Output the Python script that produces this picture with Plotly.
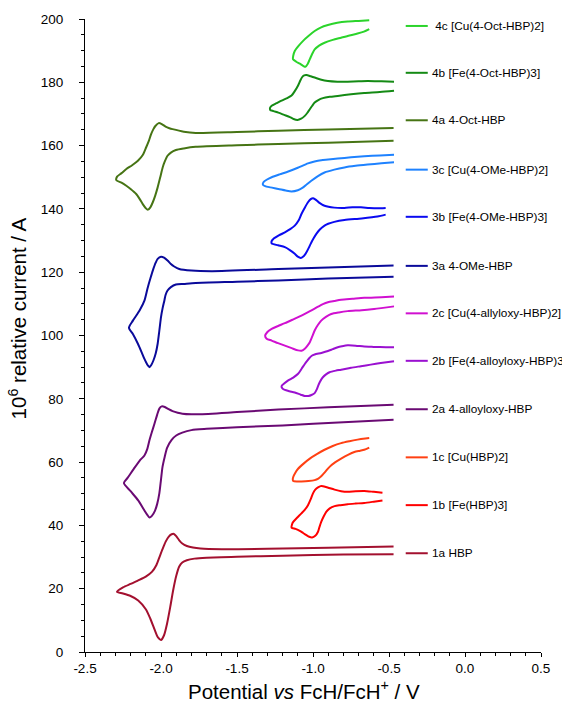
import plotly.graph_objects as go

# ---------------- data (potential V vs FcH/FcH+, relative current 1e6 A) -------------
labels = ["1a HBP", "1b [Fe(HBP)3]", "1c [Cu(HBP)2]",
          "2a 4-alloyloxy-HBP", "2b [Fe(4-alloyloxy-HBP)3]", "2c [Cu(4-allyloxy-HBP)2]",
          "3a 4-OMe-HBP", "3b [Fe(4-OMe-HBP)3]", "3c [Cu(4-OMe-HBP)2]",
          "4a 4-Oct-HBP", "4b [Fe(4-Oct-HBP)3]", " 4c [Cu(4-Oct-HBP)2]"]
colors = ["#A3102F", "#FF0000", "#FF4013",
          "#6A0A73", "#9A10D0", "#D010D0",
          "#0A0A9A", "#0A0AF0", "#1E82FF",
          "#467414", "#148A14", "#2BD42B"]
label_y = [31.2, 46.4, 61.5, 76.7, 92.0, 107.0, 122.0, 137.5, 152.4, 168.0, 183.0, 197.8]

x_tick_vals = [-2.5, -2.0, -1.5, -1.0, -0.5, 0.0, 0.5]
x_tick_text = ["-2.5", "-2.0", "-1.5", "-1.0", "-0.5", "0.0", "0.5"]

v_1a = [-0.47, -0.8, -1.2, -1.5, -1.7, -1.78, -1.83, -1.86, -1.88, -1.90, -1.92, -1.94, -1.96, -1.98,
        -2.0, -2.02, -2.04, -2.07, -2.10, -2.15, -2.2, -2.25, -2.29,
        -2.25, -2.2, -2.15, -2.1, -2.06, -2.03, -2.01, -1.99, -1.97, -1.95, -1.93, -1.915, -1.90, -1.88,
        -1.86, -1.83, -1.79, -1.74, -1.6, -1.3, -0.9, -0.47]
i_1a = [30.9, 30.8, 30.4, 30.1, 29.8, 29.5, 29.0, 28.3, 27.0, 24.0, 19.5, 14.0, 9.0, 5.3,
        3.8, 4.6, 6.8, 10.5, 13.5, 16.3, 17.7, 18.5, 19.0,
        20.4, 21.5, 22.6, 23.8, 25.3, 27.5, 30.0, 32.5, 34.8, 36.4, 37.2, 37.3, 36.6, 35.3,
        34.3, 33.5, 33.0, 32.7, 32.5, 32.6, 32.9, 33.3]

v_1b = [-0.543, -0.6, -0.663, -0.72, -0.772, -0.82, -0.858, -0.89, -0.913, -0.93, -0.946, -0.958,
        -0.967, -0.985, -1.006, -1.025, -1.043, -1.065, -1.087, -1.115, -1.141, -1.138, -1.13, -1.105,
        -1.076, -1.053, -1.033, -1.015, -1.0, -0.985, -0.967, -0.95, -0.935, -0.9, -0.858, -0.815,
        -0.772, -0.72, -0.663, -0.6, -0.543]
i_1b = [47.9, 47.5, 47.1, 46.9, 46.7, 46.4, 46.1, 45.4, 44.3, 42.8, 41.1, 39.4,
        38.0, 36.7, 36.2, 36.4, 36.9, 37.6, 38.3, 38.9, 39.3, 40.3, 41.1, 42.4,
        43.8, 45.0, 46.4, 48.3, 50.1, 51.3, 52.0, 52.4, 52.4, 51.9, 51.3, 50.8,
        50.6, 50.8, 50.9, 50.6, 50.3]

v_1c = [-0.63, -0.67, -0.707, -0.76, -0.815, -0.87, -0.924, -0.975, -1.021, -1.06, -1.098, -1.118,
        -1.13, -1.133, -1.13, -1.1, -1.076, -1.03, -0.989, -0.965, -0.946, -0.92, -0.891, -0.855,
        -0.815, -0.77, -0.728, -0.69, -0.663, -0.63]
i_1c = [67.6, 67.4, 67.1, 66.6, 66.0, 65.1, 63.9, 62.5, 61.1, 59.6, 57.9, 56.5,
        55.3, 54.5, 54.0, 53.9, 53.9, 54.0, 54.3, 54.8, 55.5, 56.9, 58.5, 59.9,
        61.1, 62.3, 63.2, 63.6, 63.9, 64.6]

v_2a = [-0.47, -0.8, -1.2, -1.5, -1.7, -1.8, -1.86, -1.90, -1.93, -1.96, -1.975, -1.99, -2.0, -2.011,
        -2.025, -2.04, -2.06, -2.076, -2.09, -2.11, -2.15, -2.2, -2.244,
        -2.22, -2.18, -2.14, -2.109, -2.09, -2.076, -2.06, -2.043, -2.025, -2.011, -1.995, -1.975,
        -1.95, -1.924, -1.89, -1.859, -1.8, -1.75, -1.5, -1.228, -0.9, -0.47]
i_2a = [73.4, 72.6, 71.6, 71.0, 70.5, 70.1, 69.3, 68.4, 67.0, 64.5, 61.8, 58.5, 54.5, 50.1,
        46.8, 44.6, 43.0, 42.5, 43.3, 44.8, 47.9, 50.8, 53.4,
        55.0, 57.8, 60.5, 62.1, 64.2, 66.9, 69.5, 72.1, 75.0, 76.9, 77.6, 77.4,
        76.7, 76.1, 75.6, 75.3, 75.1, 75.1, 75.8, 76.6, 77.3, 78.1]

v_2b = [-0.467, -0.52, -0.6, -0.663, -0.72, -0.772, -0.81, -0.837, -0.87, -0.902, -0.945, -0.989,
        -1.008, -1.025, -1.04, -1.054, -1.075, -1.098, -1.13, -1.163, -1.19, -1.207, -1.2, -1.185,
        -1.155, -1.12, -1.08, -1.055, -1.03, -1.01, -0.989, -0.975, -0.962, -0.948, -0.935, -0.912,
        -0.891, -0.85, -0.815, -0.75, -0.685, -0.62, -0.554, -0.467]
i_2b = [96.3, 96.3, 96.4, 96.5, 96.8, 96.9, 96.6, 96.3, 95.7, 95.1, 94.5, 94.0,
        93.6, 92.8, 91.9, 91.0, 89.5, 87.9, 86.7, 85.8, 84.8, 84.0, 83.2, 82.8,
        82.4, 82.0, 81.3, 80.9, 80.9, 81.2, 81.8, 83.0, 84.6, 85.9, 86.8, 87.8,
        88.4, 88.9, 89.2, 89.8, 90.3, 90.8, 91.3, 91.9]

v_2c = [-0.467, -0.55, -0.663, -0.74, -0.815, -0.86, -0.902, -0.935, -0.967, -1.02, -1.076, -1.13,
        -1.185, -1.23, -1.272, -1.3, -1.315, -1.305, -1.272, -1.23, -1.185, -1.14, -1.098, -1.075,
        -1.054, -1.035, -1.021, -1.005, -0.989, -0.968, -0.946, -0.915, -0.88, -0.83, -0.772, -0.68,
        -0.598, -0.467]
i_2c = [112.3, 112.1, 111.9, 111.6, 111.3, 110.9, 110.5, 109.9, 109.1, 107.7, 106.3, 105.1,
        103.9, 103.0, 102.1, 101.1, 99.9, 99.0, 98.4, 97.6, 96.8, 96.0, 95.3, 95.2,
        95.8, 96.9, 97.9, 99.7, 101.6, 103.3, 104.7, 105.9, 106.8, 107.3, 107.7, 108.0,
        108.4, 109.2]

v_3a = [-0.47, -0.9, -1.228, -1.5, -1.772, -1.85, -1.902, -1.935, -1.957, -1.97, -1.978, -1.99, -2.0,
        -2.011, -2.022, -2.035, -2.05, -2.065, -2.076, -2.09, -2.109, -2.13, -2.152, -2.185, -2.211,
        -2.185, -2.141, -2.109, -2.087, -2.07, -2.054, -2.035, -2.022, -2.0, -1.98, -1.957, -1.935,
        -1.913, -1.88, -1.8, -1.663, -1.228, -0.9, -0.47]
i_3a = [118.6, 118.0, 117.4, 117.0, 116.6, 116.3, 116.1, 115.3, 114.2, 112.8, 111.0, 108.5, 105.8,
        101.5, 97.4, 94.3, 92.1, 90.6, 90.0, 90.8, 92.6, 95.0, 97.4, 100.5, 102.4,
        104.7, 107.9, 111.0, 115.2, 118.0, 120.5, 123.0, 124.2, 124.9, 124.6, 123.7, 122.6,
        121.8, 121.0, 120.5, 120.3, 121.0, 121.5, 122.1]

v_3b = [-0.522, -0.576, -0.68, -0.793, -0.86, -0.9, -0.924, -0.955, -0.978, -0.995, -1.011, -1.028,
        -1.043, -1.06, -1.08, -1.10, -1.12, -1.15, -1.185, -1.23, -1.272, -1.272, -1.261, -1.225,
        -1.185, -1.15, -1.12, -1.095, -1.076, -1.055, -1.033, -1.015, -1.0, -0.985, -0.96, -0.924,
        -0.86, -0.793, -0.74, -0.685, -0.63, -0.576, -0.522]
i_3b = [138.2, 137.6, 137.0, 136.5, 135.9, 135.3, 134.7, 133.5, 132.1, 130.8, 129.4, 127.7,
        126.3, 125.1, 124.5, 124.9, 125.8, 126.9, 127.9, 128.5, 129.1, 129.8, 130.5, 131.6,
        132.6, 133.6, 134.7, 136.3, 138.4, 140.3, 142.1, 143.1, 143.4, 143.0, 142.0, 141.0,
        140.4, 140.3, 140.5, 140.5, 140.3, 140.2, 140.3]

v_3c = [-0.467, -0.56, -0.663, -0.75, -0.837, -0.9, -0.946, -0.99, -1.033, -1.1, -1.163, -1.22,
        -1.272, -1.305, -1.326, -1.33, -1.315, -1.28, -1.228, -1.18, -1.141, -1.1, -1.065, -1.04,
        -1.011, -0.97, -0.924, -0.86, -0.793, -0.72, -0.641, -0.55, -0.467]
i_3c = [157.1, 156.9, 156.6, 156.3, 155.9, 155.6, 155.4, 155.0, 154.4, 153.0, 151.8, 150.9,
        150.0, 149.2, 148.4, 147.7, 147.2, 146.8, 146.3, 145.8, 145.5, 145.9, 146.8, 147.8,
        148.9, 150.3, 151.5, 152.4, 153.1, 153.6, 154.0, 154.4, 154.7]

v_4a = [-0.47, -0.9, -1.228, -1.5, -1.772, -1.85, -1.902, -1.935, -1.957, -1.975, -1.989, -2.005,
        -2.022, -2.038, -2.054, -2.07, -2.087, -2.10, -2.12, -2.14, -2.163, -2.2, -2.228, -2.26, -2.294,
        -2.289, -2.26, -2.228, -2.19, -2.152, -2.12, -2.098, -2.08, -2.065, -2.05, -2.037, -2.015,
        -1.995, -1.97, -1.945, -1.924, -1.85, -1.772, -1.5, -1.228, -0.9, -0.47]
i_4a = [161.5, 160.9, 160.5, 160.1, 159.6, 159.1, 158.6, 157.8, 156.8, 155.0, 153.1, 150.0,
        146.8, 144.2, 142.1, 140.5, 139.7, 140.2, 141.5, 143.1, 144.7, 146.3, 147.3, 148.3, 149.1,
        150.2, 151.3, 152.6, 153.8, 155.2, 157.0, 159.4, 161.5, 163.6, 165.2, 166.2, 167.1,
        166.8, 166.0, 165.5, 165.2, 164.4, 164.0, 164.3, 164.7, 165.1, 165.6]

v_4b = [-0.467, -0.56, -0.663, -0.75, -0.837, -0.89, -0.935, -0.965, -0.989, -1.005, -1.021, -1.038,
        -1.054, -1.078, -1.102, -1.128, -1.152, -1.19, -1.228, -1.26, -1.282, -1.282, -1.272, -1.24,
        -1.207, -1.17, -1.141, -1.12, -1.098, -1.085, -1.072, -1.058, -1.043, -1.015, -0.989, -0.945,
        -0.902, -0.84, -0.772, -0.7, -0.641, -0.55, -0.467]
i_4b = [177.3, 176.9, 176.6, 176.2, 175.7, 175.4, 175.0, 174.4, 173.6, 172.6, 171.5, 170.3,
        169.4, 168.5, 168.1, 168.4, 169.0, 169.7, 170.4, 170.9, 171.3, 172.0, 172.6, 173.4,
        174.2, 175.0, 175.8, 177.2, 179.0, 180.4, 181.6, 182.2, 182.3, 181.9, 181.5, 180.8,
        180.4, 180.2, 180.2, 180.3, 180.4, 180.3, 180.2]

v_4c = [-0.63, -0.7, -0.772, -0.84, -0.902, -0.95, -0.989, -1.03, -1.065, -1.095, -1.12, -1.13,
        -1.132, -1.11, -1.087, -1.065, -1.05, -1.035, -1.021, -1.005, -0.989, -0.96, -0.924, -0.87,
        -0.815, -0.76, -0.707, -0.665, -0.63]
i_4c = [199.6, 199.4, 199.2, 198.8, 198.1, 197.3, 196.2, 194.6, 193.1, 191.5, 189.9, 188.4,
        187.3, 186.5, 185.9, 185.2, 184.9, 185.8, 187.3, 189.0, 190.4, 191.6, 192.5, 193.4,
        194.1, 194.8, 195.4, 196.0, 196.8]

series_v = [v_1a, v_1b, v_1c, v_2a, v_2b, v_2c, v_3a, v_3b, v_3c, v_4a, v_4b, v_4c]
series_i = [i_1a, i_1b, i_1c, i_2a, i_2b, i_2c, i_3a, i_3b, i_3c, i_4a, i_4b, i_4c]

key_x = [-0.39, -0.245]   # short key line next to each label
label_x = -0.23

FONT = "Liberation Sans, Arial, sans-serif"

fig = go.Figure()
for v, i, c in zip(series_v, series_i, colors):
    fig.add_trace(go.Scatter(x=v, y=i, mode="lines",
                             line=dict(color=c, width=2, shape="spline", smoothing=0.7),
                             hoverinfo="skip", showlegend=False))

for lab, c, y in zip(labels, colors, label_y):
    fig.add_trace(go.Scatter(x=key_x, y=[y, y], mode="lines", line=dict(color=c, width=2),
                             showlegend=False, hoverinfo="skip", cliponaxis=False))
    fig.add_annotation(x=label_x, y=y, text=lab, showarrow=False, xanchor="left", yanchor="middle",
                       font=dict(family=FONT, size=11.8, color="#000000"))

# axis titles
fig.add_annotation(xref="paper", yref="paper", x=0.48, y=-0.06, xanchor="center", yanchor="middle",
                   text="Potential <i>vs</i> FcH/FcH<sup>+</sup> / V", showarrow=False,
                   font=dict(family=FONT, size=20.5, color="#000000"))
fig.add_annotation(xref="paper", yref="paper", x=0, y=0.527, xshift=-67, xanchor="center",
                   yanchor="middle", textangle=-90,
                   text="10<sup>6</sup> relative current / A", showarrow=False,
                   font=dict(family=FONT, size=20.5, color="#000000"))

fig.update_layout(
    width=562, height=703,
    margin=dict(l=85, r=16, t=18, b=51),
    paper_bgcolor="white", plot_bgcolor="white",
    font=dict(family=FONT, color="#000000"),
    showlegend=False,
)
fig.update_xaxes(range=[-2.5, 0.5], tickvals=x_tick_vals, ticktext=x_tick_text,
                 showgrid=False, zeroline=False, showline=True, linecolor="black", linewidth=1,
                 ticks="outside", ticklen=4, tickcolor="black",
                 minor=dict(dtick=0.1, tick0=-2.5, ticks="outside", ticklen=3, tickcolor="black"),
                 tickfont=dict(family=FONT, size=13.5))
fig.update_yaxes(range=[0, 200], dtick=20, tick0=0,
                 showgrid=False, zeroline=False, showline=True, linecolor="black", linewidth=1,
                 ticks="outside", ticklen=5, tickcolor="black", ticklabelstandoff=13,
                 minor=dict(dtick=5, ticks="outside", ticklen=3, tickcolor="black"),
                 tickfont=dict(family=FONT, size=13.5))

fig.write_html("out.html")
